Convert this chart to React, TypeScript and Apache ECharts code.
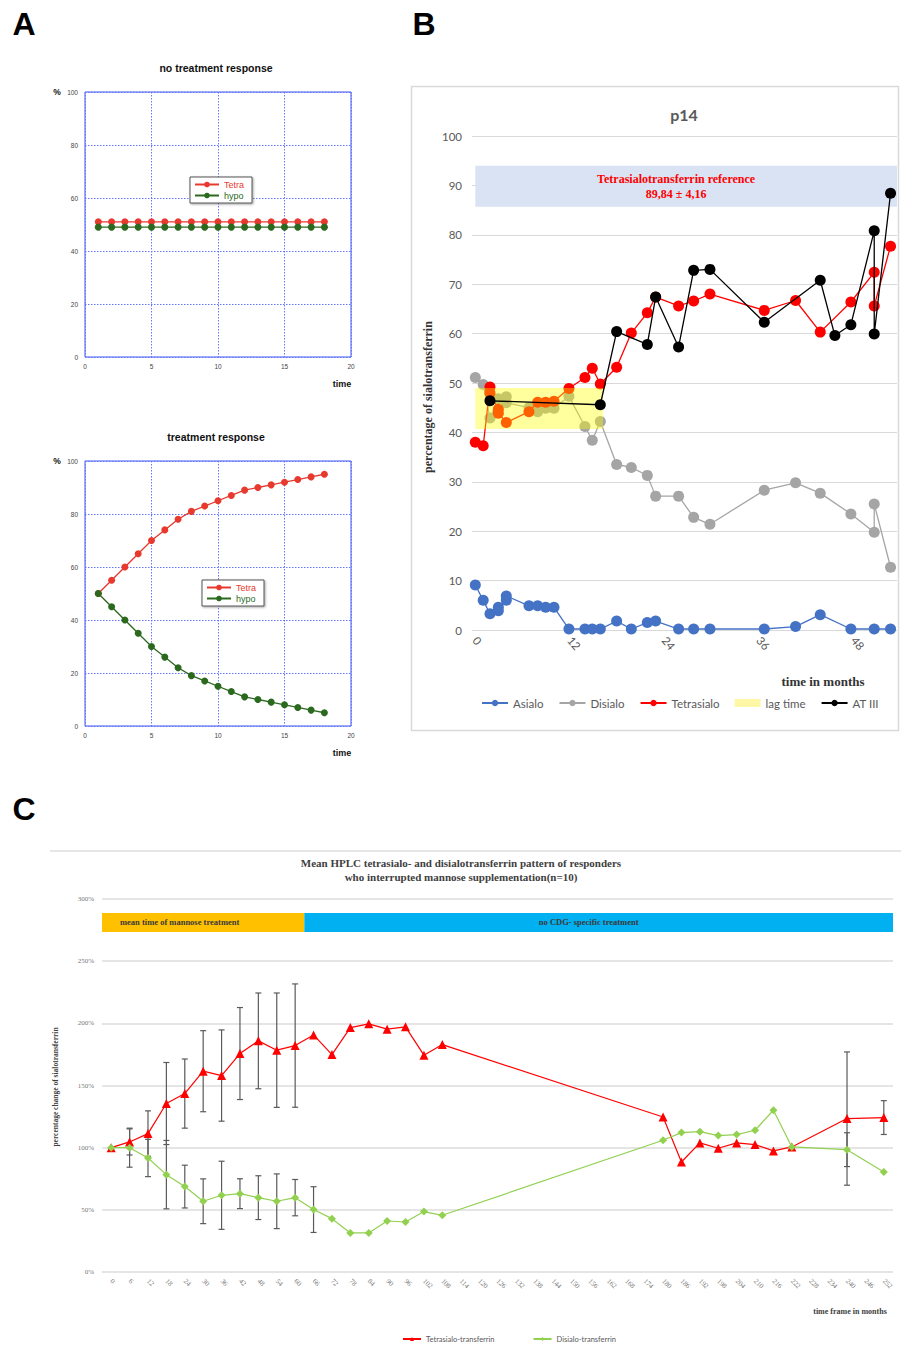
import React, { useEffect, useRef } from 'react';
import * as echarts from 'echarts';

// ---------- Panel A ----------
const A_TIME = [1, 2, 3, 4, 5, 6, 7, 8, 9, 10, 11, 12, 13, 14, 15, 16, 17, 18];
const A1_TETRA = [51, 51, 51, 51, 51, 51, 51, 51, 51, 51, 51, 51, 51, 51, 51, 51, 51, 51];
const A1_HYPO = [49, 49, 49, 49, 49, 49, 49, 49, 49, 49, 49, 49, 49, 49, 49, 49, 49, 49];
const A2_TETRA = [50, 55, 60, 65, 70, 74, 78, 81, 83, 85, 87, 89, 90, 91, 92, 93, 94, 95];
const A2_HYPO = [50, 45, 40, 35, 30, 26, 22, 19, 17, 15, 13, 11, 10, 9, 8, 7, 6, 5];

// ---------- Panel B ----------
const ASIALO_M = [0, 1, 1.86, 2.92, 2.92, 3.93, 3.93, 6.81, 7.91, 8.92, 9.98, 11.88, 13.91, 14.84, 15.86, 17.93, 19.79, 21.82, 22.88, 25.79, 27.7, 29.77, 36.66, 40.63, 43.76, 47.65, 50.61, 52.68];
const ASIALO_V = [9.1, 6.0, 3.3, 4.6, 3.9, 6.0, 6.9, 4.9, 4.9, 4.6, 4.6, 0.2, 0.2, 0.2, 0.2, 1.8, 0.2, 1.5, 1.8, 0.2, 0.2, 0.2, 0.2, 0.7, 3.1, 0.2, 0.2, 0.2];
const DISIALO_M = [0, 1, 1.86, 2.92, 3.93, 3.93, 6.81, 7.91, 8.92, 9.98, 11.88, 13.91, 14.84, 15.86, 17.93, 19.79, 21.82, 22.88, 25.79, 27.7, 29.77, 36.66, 40.63, 43.76, 47.65, 50.61, 50.61, 52.68];
const DISIALO_V = [51.1, 49.7, 42.9, 46.8, 47.2, 46.0, 45.0, 44.2, 44.9, 44.9, 47.3, 41.2, 38.4, 42.2, 33.5, 32.9, 31.3, 27.1, 27.1, 22.8, 21.4, 28.3, 29.8, 27.7, 23.5, 19.8, 25.5, 12.7];
const TETRA_M = [0, 1, 1.86, 1.86, 2.92, 2.92, 3.93, 6.81, 7.91, 8.92, 9.98, 11.88, 13.91, 14.84, 15.86, 17.93, 19.79, 21.82, 22.88, 25.79, 27.7, 29.77, 36.66, 40.63, 43.76, 47.65, 50.61, 50.61, 52.68];
const TETRA_V = [38.0, 37.3, 49.2, 48.0, 44.7, 43.9, 42.0, 44.2, 46.1, 46.1, 46.3, 48.9, 51.1, 53.0, 49.8, 53.2, 60.1, 64.2, 67.4, 65.6, 66.6, 68.0, 64.7, 66.7, 60.3, 66.4, 72.4, 65.6, 77.7];
const AT3_M = [1.86, 15.86, 17.93, 21.82, 22.88, 25.79, 27.7, 29.77, 36.66, 43.76, 45.62, 47.65, 50.61, 50.61, 52.68];
const AT3_V = [46.4, 45.6, 60.4, 57.8, 67.4, 57.3, 72.8, 73.0, 62.3, 70.8, 59.6, 61.8, 80.8, 59.9, 88.4];
const B_MONTH_TICKS = [0, 12, 24, 36, 48];
const REF_MEAN = 89.84;
const REF_SD = 4.16;
const LAG_MONTHS = [0, 16.2];
const LAG_RANGE = [40.7, 49.0];

// ---------- Panel C ----------
const C_MONTHS = ['0', '6', '12', '18', '24', '30', '36', '42', '48', '54', '60', '66', '72', '78', '84', '90', '96', '102', '108', '114', '120', '126', '132', '138', '144', '150', '156', '162', '168', '174', '180', '186', '192', '198', '204', '210', '216', '222', '228', '234', '240', '246', '252'];
const C_TETRA = [100, 104.6, 111.3, 135.5, 143.5, 161.5, 158, 175.7, 185.9, 178.4, 182.1, 190.7, 174.9, 196.6, 199.6, 195.3, 197.2, 174.4, 182.9, null, null, null, null, null, null, null, null, null, null, null, 124.7, 88.5, 103.8, 99.5, 103.8, 102.5, 97.4, 100.6, null, null, 123.4, null, 124.2];
const C_DISIALO = [100, 100, 91.7, 78.3, 68.7, 56.9, 61.7, 63, 59.8, 56.9, 59.8, 50.2, 42.9, 31.4, 31.4, 41, 40.2, 48.6, 45.6, null, null, null, null, null, null, null, null, null, null, null, 106, 112.1, 112.9, 109.7, 110.5, 114, 130.1, 100.6, null, null, 98.4, null, 80.5];
const C_TETRA_SD = [null, 10.5, 18.3, 33, 27.8, 32.6, 36.7, 37, 38.5, 46, 49.6, null, null, null, null, null, null, null, null, null, null, null, null, null, null, null, null, null, null, null, null, null, null, null, null, null, null, null, null, null, 53.6, null, 13.6];
const C_DISIALO_SD = [null, 15.7, 15, 27.5, 17.2, 18, 27.4, 12, 17.6, 22, 14.6, 18.4, null, null, null, null, null, null, null, null, null, null, null, null, null, null, null, null, null, null, null, null, null, null, null, null, null, null, null, null, 13.6, null, null];
const C_PHASES = ['mean time of mannose treatment', 'no CDG- specific treatment'];
const C_PHASE_START = [0, 11];
const C_PHASE_END = [10, 42];
const C_PHASE_Y = [273.5, 288.8];

const zip = (a: number[], b: (number | null)[]) => a.map((v, i) => [v, b[i]]);

const SANS = 'Liberation Sans';
const SERIF = 'Liberation Serif';
const CAL = 'Lato';

export default function App() {
  const ref = useRef<HTMLDivElement>(null);
  useEffect(() => {
    if (!ref.current) return;
    const chart = echarts.init(ref.current, undefined, { renderer: 'svg' });

    const blue = '#3d55f0';
    const aRed = '#e8392f';
    const aGreen = '#2b6a1e';

    const aXAxis = (gi: number) => ({
      type: 'value', gridIndex: gi, min: 0, max: 20, interval: 5,
      axisLine: { show: false }, axisTick: { show: false },
      axisLabel: { fontSize: 6.5, color: '#444', fontFamily: SANS, margin: 6 },
      splitLine: { show: true, lineStyle: { color: '#6677ff', type: [1.5, 1.5], width: 1 } },
    });
    const aYAxis = (gi: number) => ({
      type: 'value', gridIndex: gi, min: 0, max: 100, interval: 20,
      axisLine: { show: false }, axisTick: { show: false },
      axisLabel: { fontSize: 6.5, color: '#444', fontFamily: SANS, margin: 7 },
      splitLine: { show: true, lineStyle: { color: '#6677ff', type: [1.5, 1.5], width: 1 } },
    });
    const aSeries = (name: string, gi: number, vals: number[], color: string) => ({
      name, type: 'line', xAxisIndex: gi, yAxisIndex: gi,
      data: zip(A_TIME, vals), symbol: 'circle', symbolSize: 7,
      lineStyle: { color, width: 1.3 }, itemStyle: { color },
    });
    const aLegend = (left: number, top: number) => ({
      left, top, orient: 'vertical', itemWidth: 24, itemHeight: 7, itemGap: 2,
      padding: [3, 8, 3, 4], borderColor: '#555', borderWidth: 1, backgroundColor: '#fff',
      shadowColor: 'rgba(0,0,0,0.35)', shadowBlur: 2, shadowOffsetX: 1, shadowOffsetY: 1,
      textStyle: { fontSize: 9, fontFamily: SANS },
      data: [
        { name: 'Tetra', textStyle: { color: aRed } },
        { name: 'hypo', textStyle: { color: aGreen } },
      ],
    });

    const bSeries = (name: string, m: number[], v: number[], color: string, z: number) => ({
      name, type: 'line', xAxisIndex: 2, yAxisIndex: 2, z,
      data: zip(m, v), symbol: 'circle', symbolSize: 11,
      lineStyle: { color, width: 1.3 }, itemStyle: { color },
    });

    const errData = (means: (number | null)[], sds: (number | null)[]) => {
      const out: number[][] = [];
      means.forEach((m, i) => {
        const s = sds[i];
        if (m != null && s != null) out.push([i, m - s, m + s]);
      });
      return out;
    };
    const errRender = (params: any, api: any) => {
      const x = api.value(0);
      const p1 = api.coord([x, api.value(1)]);
      const p2 = api.coord([x, api.value(2)]);
      const w = 3;
      const st = { stroke: '#5a5a5a', lineWidth: 1.2 };
      return {
        type: 'group',
        children: [
          { type: 'line', shape: { x1: p1[0], y1: p1[1], x2: p2[0], y2: p2[1] }, style: st },
          { type: 'line', shape: { x1: p1[0] - w, y1: p1[1], x2: p1[0] + w, y2: p1[1] }, style: st },
          { type: 'line', shape: { x1: p2[0] - w, y1: p2[1], x2: p2[0] + w, y2: p2[1] }, style: st },
        ],
      };
    };
    const phaseColors = ['#ffc000', '#00b0f0'];
    const phaseRender = (params: any, api: any) => {
      const s = api.value(0), e = api.value(1);
      const bw = api.size([1, 0])[0];
      const p1 = api.coord([s, api.value(3)]);
      const p2 = api.coord([e, api.value(2)]);
      const x = p1[0] - bw / 2;
      const w = p2[0] - p1[0] + bw;
      const idx = params.dataIndex;
      const tx = idx === 0 ? x + 18 : x + w / 2 - 10;
      return {
        type: 'group',
        children: [
          { type: 'rect', shape: { x, y: p1[1], width: w, height: p2[1] - p1[1] }, style: { fill: phaseColors[idx] } },
          {
            type: 'text', x: tx, y: (p1[1] + p2[1]) / 2,
            style: {
              text: C_PHASES[idx], fill: '#3a3a3a', font: `bold 8.5px ${SERIF}`,
              align: idx === 0 ? 'left' : 'center', verticalAlign: 'middle',
              textAlign: idx === 0 ? 'left' : 'center', textVerticalAlign: 'middle',
            },
          },
        ],
      };
    };
    const lagRender = (params: any, api: any) => {
      const p1 = api.coord([api.value(0), api.value(3)]);
      const p2 = api.coord([api.value(1), api.value(2)]);
      return {
        type: 'rect',
        shape: { x: p1[0], y: p1[1], width: p2[0] - p1[0], height: p2[1] - p1[1] },
        style: { fill: 'rgba(255,255,0,0.38)' },
      };
    };

    const txt = (x: number, y: number, text: string, font: string, fill: string, align = 'center', rotation = 0) => ({
      type: 'text', x, y, rotation, silent: true,
      style: { text, font, fill, align, verticalAlign: 'middle', textAlign: align, textVerticalAlign: 'middle' },
    });

    const option: any = {
      animation: false,
      textStyle: { fontFamily: SANS },
      grid: [
        { left: 85, top: 92, width: 266, height: 265, show: true, borderColor: blue, borderWidth: 1, backgroundColor: 'transparent' },
        { left: 85, top: 461, width: 266, height: 265, show: true, borderColor: blue, borderWidth: 1, backgroundColor: 'transparent' },
        { left: 472, top: 136, width: 425, height: 494 },
        { left: 102, top: 899, width: 791, height: 373 },
      ],
      xAxis: [
        aXAxis(0),
        aXAxis(1),
        {
          type: 'value', gridIndex: 2, min: -0.42, max: 53.5,
          axisLine: { show: false }, axisTick: { show: false }, splitLine: { show: false },
          axisLabel: { customValues: B_MONTH_TICKS, rotate: -50, fontSize: 11.5, color: '#595959', fontFamily: CAL, margin: 8 },
        },
        {
          type: 'category', gridIndex: 3, data: C_MONTHS, boundaryGap: true,
          axisLine: { show: false }, axisTick: { show: false },
          axisLabel: { interval: 0, rotate: -45, fontSize: 7, color: '#777', fontFamily: SERIF, margin: 8 },
        },
      ],
      yAxis: [
        aYAxis(0),
        aYAxis(1),
        {
          type: 'value', gridIndex: 2, min: 0, max: 100, interval: 10,
          axisLine: { show: false }, axisTick: { show: false },
          axisLabel: { fontSize: 11.5, color: '#595959', fontFamily: CAL, margin: 10 },
          splitLine: { lineStyle: { color: '#d9d9d9', width: 1.2 } },
        },
        {
          type: 'value', gridIndex: 3, min: 0, max: 300, interval: 50,
          axisLine: { show: false }, axisTick: { show: false },
          axisLabel: { formatter: '{value}%', fontSize: 7, color: '#777', fontFamily: SERIF, margin: 8 },
          splitLine: { lineStyle: { color: '#dcdcdc', width: 1.5 } },
        },
      ],
      legend: [
        aLegend(190, 177),
        aLegend(202, 580),
        {
          left: 476, top: 692, itemWidth: 26, itemHeight: 8, itemGap: 15,
          textStyle: { fontSize: 11.5, color: '#595959', fontFamily: CAL },
          data: ['Asialo', 'Disialo', 'Tetrasialo', { name: 'lag time', icon: 'rect' }, 'AT III'],
        },
        {
          left: 397, top: 1330, itemWidth: 18, itemHeight: 5, itemGap: 38,
          textStyle: { fontSize: 7.5, color: '#595959', fontFamily: CAL },
          data: ['Tetrasialo-transferrin', 'Disialo-transferrin'],
        },
      ],
      series: [
        aSeries('Tetra', 0, A1_TETRA, aRed),
        aSeries('hypo', 0, A1_HYPO, aGreen),
        aSeries('Tetra', 1, A2_TETRA, aRed),
        aSeries('hypo', 1, A2_HYPO, aGreen),
        {
          name: 'ref', type: 'line', xAxisIndex: 2, yAxisIndex: 2, data: [], z: 1, silent: true,
          markArea: {
            silent: true,
            itemStyle: { color: '#dae3f3' },
            label: {
              show: true, position: 'inside', offset: [-10, 0],
              formatter: 'Tetrasialotransferrin reference\n' + String(REF_MEAN).replace('.', ',') + ' ± ' + String(REF_SD).replace('.', ','),
              color: '#ff0000', fontFamily: SERIF, fontWeight: 'bold', fontSize: 12, lineHeight: 15,
            },
            data: [[{ xAxis: 0, yAxis: REF_MEAN - REF_SD }, { xAxis: 53.5, yAxis: REF_MEAN + REF_SD }]],
          },
        },
        bSeries('Asialo', ASIALO_M, ASIALO_V, '#4472c4', 2),
        bSeries('Disialo', DISIALO_M, DISIALO_V, '#a5a5a5', 2),
        bSeries('Tetrasialo', TETRA_M, TETRA_V, '#ff0000', 3),
        {
          name: 'lag time', type: 'custom', xAxisIndex: 2, yAxisIndex: 2, z: 4, silent: true,
          itemStyle: { color: '#fdf7a6' },
          renderItem: lagRender, encode: { x: [0, 1], y: [2, 3] },
          data: [[LAG_MONTHS[0], LAG_MONTHS[1], LAG_RANGE[0], LAG_RANGE[1]]],
        },
        bSeries('AT III', AT3_M, AT3_V, '#000000', 5),
        {
          name: 'phases', type: 'custom', xAxisIndex: 3, yAxisIndex: 3, silent: true, z: 1,
          renderItem: phaseRender,
          encode: { x: [0, 1], y: [2, 3] },
          data: C_PHASE_START.map((s, i) => [s, C_PHASE_END[i], C_PHASE_Y[0], C_PHASE_Y[1]]),
        },
        {
          name: 'errT', type: 'custom', xAxisIndex: 3, yAxisIndex: 3, silent: true, z: 2,
          renderItem: errRender, encode: { x: 0, y: [1, 2] },
          data: errData(C_TETRA, C_TETRA_SD),
        },
        {
          name: 'errD', type: 'custom', xAxisIndex: 3, yAxisIndex: 3, silent: true, z: 2,
          renderItem: errRender, encode: { x: 0, y: [1, 2] },
          data: errData(C_DISIALO, C_DISIALO_SD),
        },
        {
          name: 'Tetrasialo-transferrin', type: 'line', xAxisIndex: 3, yAxisIndex: 3, z: 3,
          data: C_TETRA, connectNulls: true, symbol: 'triangle', symbolSize: 9,
          lineStyle: { color: '#ff0000', width: 1.2 }, itemStyle: { color: '#ff0000' },
        },
        {
          name: 'Disialo-transferrin', type: 'line', xAxisIndex: 3, yAxisIndex: 3, z: 3,
          data: C_DISIALO, connectNulls: true, symbol: 'diamond', symbolSize: 8,
          lineStyle: { color: '#92d050', width: 1.2 }, itemStyle: { color: '#92d050' },
        },
      ],
      graphic: [
        txt(24, 24, 'A', `bold 32px ${SANS}`, '#000'),
        txt(424, 24, 'B', `bold 32px ${SANS}`, '#000'),
        txt(24, 809, 'C', `bold 32px ${SANS}`, '#000'),
        txt(216, 68, 'no treatment response', `bold 10.5px ${SANS}`, '#111'),
        txt(57, 92, '%', `bold 8.5px ${SANS}`, '#111'),
        txt(342, 384, 'time', `bold 9px ${SANS}`, '#111'),
        txt(216, 437, 'treatment response', `bold 10.5px ${SANS}`, '#111'),
        txt(57, 461, '%', `bold 8.5px ${SANS}`, '#111'),
        txt(342, 753, 'time', `bold 9px ${SANS}`, '#111'),
        {
          type: 'rect', silent: true, shape: { x: 411.5, y: 86.5, width: 487, height: 644 },
          style: { fill: 'none', stroke: '#d9d9d9', lineWidth: 1.5 },
        },
        txt(684, 114, 'p14', `bold 16px ${CAL}`, '#595959'),
        txt(428, 397, 'percentage of sialotransferrin', `bold 12px ${SERIF}`, '#333', 'center', Math.PI / 2),
        txt(823, 681, 'time in months', `bold 13px ${SERIF}`, '#333'),
        {
          type: 'line', silent: true, shape: { x1: 50, y1: 851, x2: 901, y2: 851 },
          style: { stroke: '#e6e6e6', lineWidth: 2 },
        },
        txt(461, 863, 'Mean HPLC tetrasialo- and disialotransferrin pattern of responders', `bold 11px ${SERIF}`, '#404040'),
        txt(461, 877, 'who interrupted mannose supplementation(n=10)', `bold 11px ${SERIF}`, '#404040'),
        txt(55, 1087, 'percentage change of sialotransferrin', `bold 7.5px ${SERIF}`, '#404040', 'center', Math.PI / 2),
        txt(850, 1311, 'time frame in months', `bold 8px ${SERIF}`, '#404040'),
      ],
    };
    chart.setOption(option);
    return () => chart.dispose();
  }, []);
  return <div ref={ref} style={{ position: 'absolute', left: 0, top: 0, width: 901, height: 1356, background: '#fff' }} />;
}
